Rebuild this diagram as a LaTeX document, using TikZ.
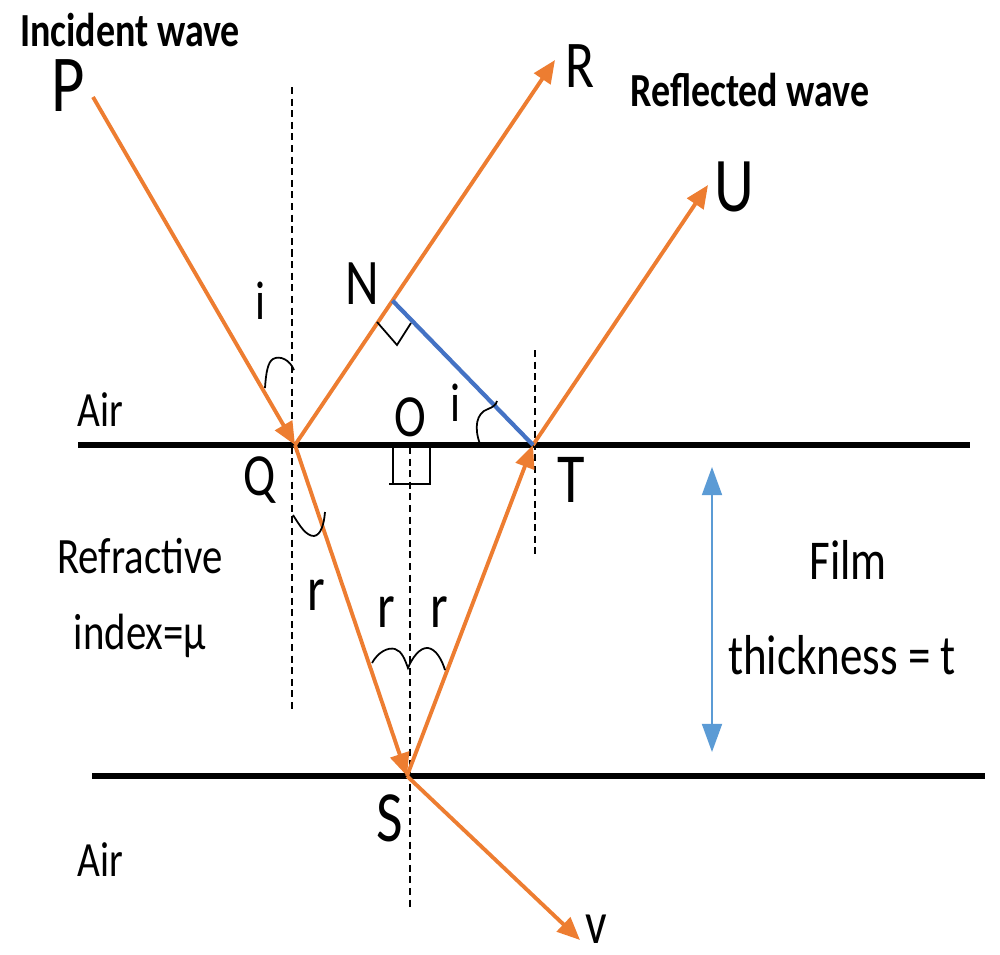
\documentclass[tikz,border=0pt]{standalone}
\usepackage{fontspec}
\setmainfont[FakeStretch=0.8]{Carlito}
\usetikzlibrary{arrows.meta,calc}
\definecolor{raycol}{RGB}{237,125,49}
\definecolor{ntcol}{RGB}{68,114,196}
\definecolor{thkcol}{RGB}{91,155,213}
\newcommand\lblsize[1]{\fontsize{#1}{#1}\selectfont}
\tikzset{
  rayline/.style={draw=raycol,line width=1.1pt,-{Triangle[length=6.5pt,width=5.5pt]}},
  surface/.style={draw=black,line width=1.6pt},
  normalline/.style={draw=black,line width=0.5pt,dash pattern=on 2pt off 1.3pt},
  anglemark/.style={draw=black,line width=0.5pt},
  lbl/.style={inner sep=0pt,anchor=center},
  boldlbl/.style={inner sep=0pt,anchor=center,font=\bfseries\lblsize{13.5}}
}
\begin{document}
\begin{tikzpicture}[x=0.01cm,y=-0.01cm]
\useasboundingbox (0,0) rectangle (1000,954);
% key points
\coordinate (P) at (93,97);
\coordinate (Q) at (295,445);
\coordinate (R) at (555,60);
\coordinate (N) at ($(Q)!0.375!(R)$);
\coordinate (T) at (533,445);
\coordinate (U) at (708,185);
\coordinate (S) at (407,776);
\coordinate (V) at (580,940);
% surfaces
\coordinate (A1) at (78,445);  \coordinate (A2) at (970,445);
\coordinate (B1) at (92,776);  \coordinate (B2) at (985,776);
\draw[surface] (A1) -- (A2);
\draw[surface] (B1) -- (B2);
% normals
\coordinate (n1a) at (292,87);  \coordinate (n1b) at (292,712);
\coordinate (n2a) at (410,447); \coordinate (n2b) at (410,910);
\coordinate (n3a) at (535,350); \coordinate (n3b) at (535,555);
\draw[normalline] (n1a) -- (n1b);
\draw[normalline] (n2a) -- (n2b);
\draw[normalline] (n3a) -- (n3b);
% rays
\draw[rayline] (P) -- (Q);
\draw[rayline] (Q) -- (R);
\draw[rayline] (Q) -- (S);
\draw[rayline] (S) -- (T);
\draw[rayline] (T) -- (U);
\draw[rayline] (S) -- (V);
% wavefront NT
\draw[draw=ntcol,line width=1.2pt] (N) -- (T);
% thickness arrow
\coordinate (t1) at (712,467); \coordinate (t2) at (712,752);
\draw[draw=thkcol,line width=0.5pt,{Triangle[length=8pt,width=5.7pt]}-{Triangle[length=8pt,width=5.7pt]}] (t1) -- (t2);
% right-angle marks
\draw[anglemark] (377,322) -- (397,345) -- (411,323);
\draw[anglemark] (393,445) -- (393,484) -- (389,484) -- (430,484) -- (430,445);
% angle marks
\draw[anglemark] (265,388) .. controls (266,372) and (268,362) .. (273,359) .. controls (280,355) and (290,360) .. (294,370);
\draw[anglemark] (480,444) .. controls (474,428) and (476,413) .. (488,409) .. controls (493,407) and (496,405) .. (497,401);
\draw[anglemark] (293,515) .. controls (300,526) and (306,536) .. (314,536) .. controls (321,535) and (324,524) .. (325,512);
\draw[anglemark] (372,663) .. controls (378,652) and (388,647) .. (395,649) .. controls (402,651) and (405,660) .. (408,668) .. controls (412,658) and (420,647) .. (428,648) .. controls (436,649) and (442,660) .. (445,670);
% labels
\node[boldlbl] (incl) at (130,30) {Incident wave};
\node[boldlbl] (refl) at (750,90) {Reflected wave};
\node[lbl,font=\lblsize{23}] (Pl) at (68,86) {P};
\node[lbl,font=\lblsize{19}] (Rl) at (580,66) {R};
\node[lbl,font=\lblsize{22}] (Ul) at (734,187) {U};
\node[lbl,font=\lblsize{18.5}] (Nl) at (362,284) {N};
\node[lbl,font=\lblsize{15.5}] (i1) at (260,301) {i};
\node[lbl,font=\lblsize{15.5}] (i2) at (455,403) {i};
\node[lbl,font=\lblsize{17}] (Ol) at (410,417) {O};
\node[lbl,font=\lblsize{17}] (Ql) at (260,480) {Q};
\node[lbl,font=\lblsize{20}] (Tl) at (571,480) {T};
\node[lbl,font=\lblsize{20.5}] (Sl) at (390,818) {S};
\node[lbl,font=\lblsize{17}] (Vl) at (596,929) {v};
\node[lbl,font=\lblsize{18}] (r1) at (316,595) {r};
\node[lbl,font=\lblsize{18}] (r2) at (386,612) {r};
\node[lbl,font=\lblsize{18}] (r3) at (439,612) {r};
\node[lbl,font=\lblsize{14}] (air1) at (100,410) {Air};
\node[lbl,font=\lblsize{14}] (air2) at (100,860) {Air};
\node[lbl,font=\lblsize{14.5}] (refr) at (140,556) {Refractive};
\node[lbl,font=\lblsize{14.5}] (idx) at (140,636) {index=μ};
\node[lbl,font=\lblsize{16}] (film) at (848,560) {Film};
\node[lbl,font=\lblsize{16}] (thk) at (842,655) {thickness = t};
\end{tikzpicture}
\end{document}
